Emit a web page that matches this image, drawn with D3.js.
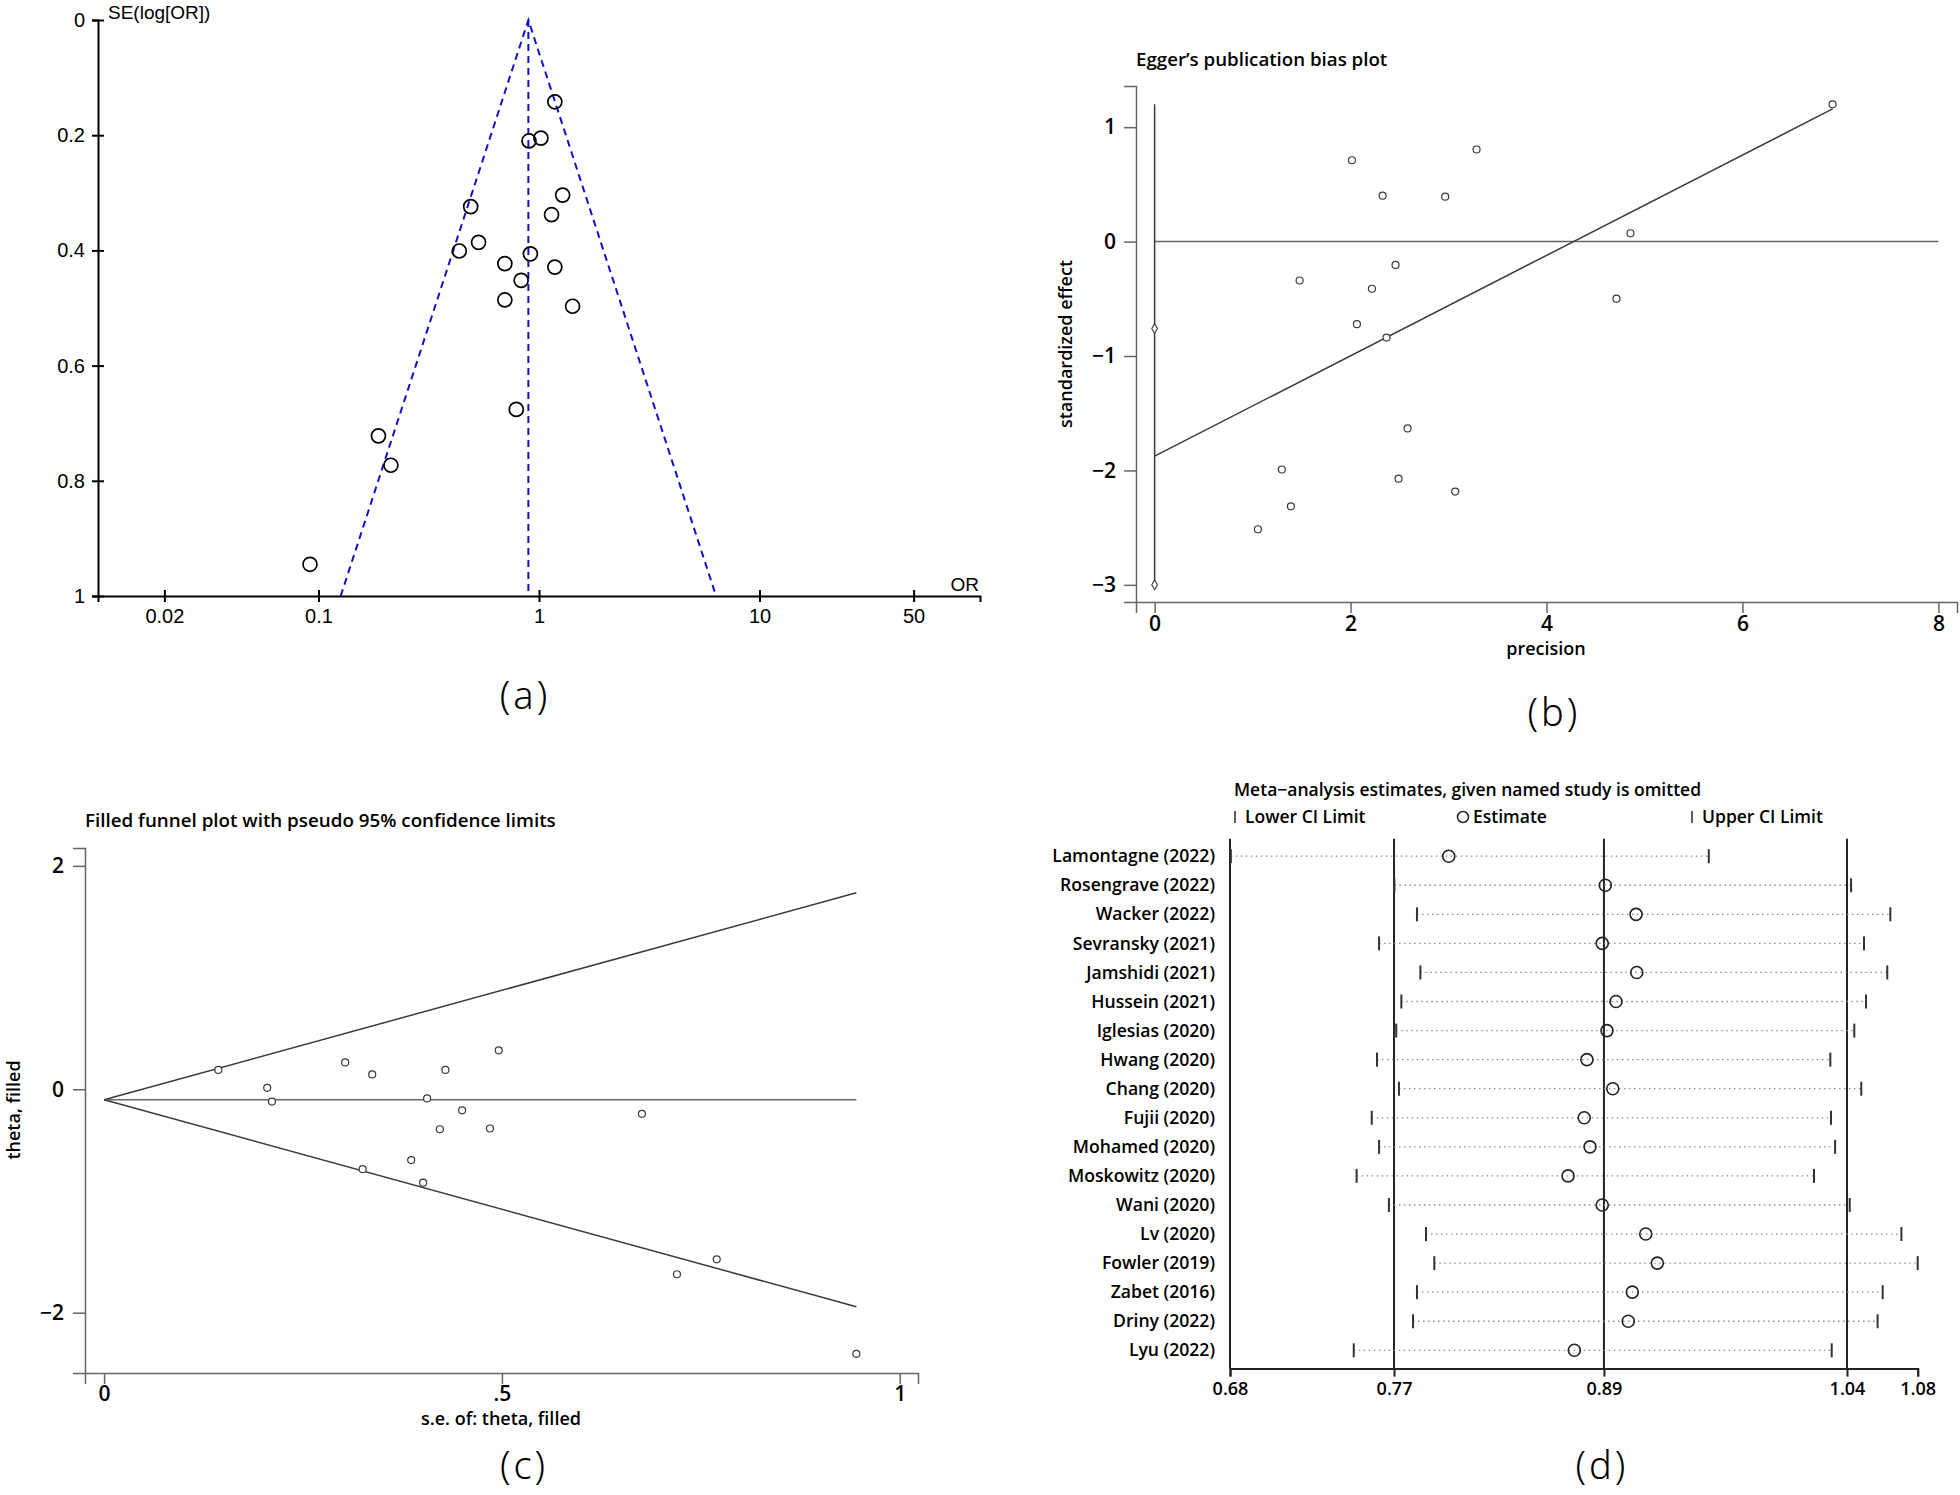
<!DOCTYPE html>
<html>
<head>
<meta charset="utf-8">
<script src="https://cdn.jsdelivr.net/npm/d3@7"></script>
<style>
  body { margin: 0; background: #fff; }
  svg text { fill: #000; }
</style>
</head>
<body>
<script>
// ---------- data ----------
// (a) funnel plot: odds ratio and SE(log OR) per study
var orA = [0.0915, 0.187, 0.213, 0.789, 0.490, 0.435, 0.532, 0.700, 0.700, 0.830, 0.914, 0.901, 1.02, 1.14, 1.18, 1.28, 1.18, 1.42];
var seA = [0.945, 0.722, 0.773, 0.676, 0.324, 0.401, 0.386, 0.423, 0.486, 0.452, 0.406, 0.210, 0.205, 0.338, 0.142, 0.304, 0.429, 0.497];
var pooledOrA = 0.895;
var xTicksA = [0.02, 0.1, 1, 10, 50];
var yTicksA = [0, 0.2, 0.4, 0.6, 0.8, 1];

// (b) Egger plot: precision vs standardized effect
var precB = [2.014, 3.286, 2.327, 2.966, 1.480, 2.459, 2.218, 2.065, 2.367, 2.582, 1.299, 2.490, 3.068, 1.391, 1.054, 6.92, 4.857, 4.714];
var effB = [0.711, 0.805, 0.401, 0.393, -0.340, -0.204, -0.412, -0.722, -0.839, -1.633, -1.992, -2.072, -2.185, -2.314, -2.514, 1.20, 0.073, -0.499];
var eggerIntercept = -1.875;
var eggerSlope = 0.4385;
var interceptLine = [-3.0, 1.2];
var interceptMarks = [-0.76, -3.0];
var xTicksB = [0, 2, 4, 6, 8];
var yTicksB = [-3, -2, -1, 0, 1];

// (c) filled funnel: s.e. vs theta
var seC = [0.1436, 0.205, 0.211, 0.303, 0.337, 0.325, 0.386, 0.401, 0.406, 0.429, 0.422, 0.450, 0.485, 0.496, 0.676, 0.720, 0.770, 0.9455];
var thetaC = [0.173, 0.013, -0.110, 0.240, 0.133, -0.715, -0.634, -0.836, -0.082, 0.173, -0.358, -0.188, -0.351, 0.349, -0.220, -1.656, -1.522, -2.368];
var pooledThetaC = -0.094;
var xTicksC = [0, 0.5, 1];
var xTickLabelsC = ["0", ".5", "1"];
var yTicksC = [-2, 0, 2];

// (d) leave-one-out estimates
var studies = ["Lamontagne (2022)", "Rosengrave (2022)", "Wacker (2022)", "Sevransky (2021)", "Jamshidi (2021)", "Hussein (2021)",
  "Iglesias (2020)", "Hwang (2020)", "Chang (2020)", "Fujii (2020)", "Mohamed (2020)", "Moskowitz (2020)",
  "Wani (2020)", "Lv (2020)", "Fowler (2019)", "Zabet (2016)", "Driny (2022)", "Lyu (2022)"];
var lowerD = [0.6755, 0.7717, 0.785, 0.7627, 0.787, 0.7758, 0.7728, 0.7615, 0.7744, 0.7584, 0.7627, 0.7495, 0.7685, 0.7903, 0.7952, 0.785, 0.7827, 0.7478];
var estD = [0.8037, 0.8958, 0.9139, 0.894, 0.9143, 0.9021, 0.8968, 0.885, 0.9002, 0.8834, 0.8868, 0.8739, 0.894, 0.9196, 0.9264, 0.9117, 0.9093, 0.8776];
var upperD = [0.9567, 1.0404, 1.0635, 1.048, 1.0617, 1.0492, 1.0423, 1.0282, 1.0464, 1.0286, 1.031, 1.0186, 1.0396, 1.07, 1.0796, 1.059, 1.056, 1.029];
var pooledD = [0.7715, 0.895, 1.038];
var xTicksD = [0.675, 0.7715, 0.895, 1.038, 1.0796];
var xTickLabelsD = ["0.68", "0.77", "0.89", "1.04", "1.08"];

// ---------- svg ----------
var w = 1960, h = 1495;
var svg = d3.select("body").append("svg")
  .attr("width", w)
  .attr("height", h);

var sansA = "'Liberation Sans', Arial, sans-serif";
var sansB = "'Open Sans', 'Noto Sans', sans-serif";

function styleAxis(g, color, width) {
  g.selectAll(".domain").attr("stroke", color).attr("stroke-width", width);
  g.selectAll(".tick line").attr("stroke", color).attr("stroke-width", width);
  g.selectAll(".tick text").attr("fill", "#000");
}

// ================= (a) =================
var xA = d3.scaleLog().domain([0.01, 100]).range([98, 980]);
var yA = d3.scaleLinear().domain([0, 1]).range([20, 596]);
var gA = svg.append("g").attr("font-family", sansA);

var yAxisA = gA.append("g")
  .attr("transform", "translate(98,0)")
  .call(d3.axisLeft(yA).tickValues(yTicksA).tickFormat(d3.format("")).tickSizeOuter(0).tickSize(6).tickPadding(7));
yAxisA.selectAll(".tick line").attr("x1", 6);
yAxisA.selectAll("text").attr("font-size", 20).attr("font-family", sansA);
styleAxis(yAxisA, "#000", 2);

var xAxisA = gA.append("g")
  .attr("transform", "translate(0,596)")
  .call(d3.axisBottom(xA).tickValues(xTicksA).tickFormat(function(d) { return d; }).tickSizeOuter(0).tickSize(6).tickPadding(7));
xAxisA.selectAll(".tick line").attr("y1", -6);
xAxisA.selectAll("text").attr("font-size", 20).attr("font-family", sansA);
styleAxis(xAxisA, "#000", 2);

gA.append("text").text("SE(log[OR])")
  .attr("x", 108).attr("y", 19).attr("font-size", 19);
gA.append("text").text("OR")
  .attr("x", 979).attr("y", 591).attr("text-anchor", "end").attr("font-size", 19);

// pseudo 95% limits
var funnelA = [
  [[pooledOrA * Math.exp(-1.96), 1], [pooledOrA, 0], [pooledOrA * Math.exp(1.96), 1]],
  [[pooledOrA, 0], [pooledOrA, 1]]
];
gA.selectAll("path.funnel")
  .data(funnelA)
  .enter()
  .append("path")
  .attr("class", "funnel")
  .attr("d", d3.line().x(function(d) { return xA(d[0]); }).y(function(d) { return yA(d[1]); }))
  .attr("fill", "none")
  .attr("stroke", "#1010c8")
  .attr("stroke-width", 2)
  .attr("stroke-dasharray", "7,5");

gA.selectAll("circle")
  .data(orA)
  .enter()
  .append("circle")
  .attr("cx", function(d) { return xA(d); })
  .attr("cy", function(d, i) { return yA(seA[i]); })
  .attr("r", 7)
  .attr("fill", "none")
  .attr("stroke", "#000")
  .attr("stroke-width", 1.7);

// ================= (b) =================
var xB = d3.scaleLinear().domain([-0.19, 8.19]).range([1136, 1957]);
var yB = d3.scaleLinear().domain([-3.15, 1.36]).range([602, 86]);
var gB = svg.append("g").attr("font-family", sansB);
var axisCol = "#666";

var yAxisB = gB.append("g")
  .attr("transform", "translate(1136,0)")
  .call(d3.axisLeft(yB).tickValues(yTicksB).tickFormat(d3.format("")).tickSizeOuter(0).tickSize(12).tickPadding(8));
yAxisB.selectAll("text").attr("font-size", 21).attr("font-weight", 600).attr("font-family", sansB);
styleAxis(yAxisB, axisCol, 1.5);

var xAxisB = gB.append("g")
  .attr("transform", "translate(0,602)")
  .call(d3.axisBottom(xB).tickValues(xTicksB).tickSizeOuter(0).tickSize(11).tickPadding(3));
xAxisB.selectAll("text").attr("font-size", 21).attr("font-weight", 600).attr("font-family", sansB);
styleAxis(xAxisB, axisCol, 1.5);

gB.append("text").text("Egger\u2019s publication bias plot")
  .attr("x", 1136).attr("y", 66).attr("font-size", 18.7).attr("font-weight", 600);
gB.append("text").text("precision")
  .attr("x", 1546).attr("y", 655).attr("text-anchor", "middle").attr("font-size", 18).attr("font-weight", 600);
gB.append("text").text("standardized effect")
  .attr("transform", "translate(1072,344) rotate(-90)")
  .attr("text-anchor", "middle").attr("font-size", 18).attr("font-weight", 600);

var lineCol = "#3a3a3a";
// zero line
gB.append("line")
  .attr("x1", xB(0)).attr("x2", xB(8)).attr("y1", yB(0)).attr("y2", yB(0))
  .attr("stroke", axisCol).attr("stroke-width", 1.5);
// intercept CI
gB.append("line")
  .attr("x1", xB(0)).attr("x2", xB(0)).attr("y1", yB(interceptLine[0])).attr("y2", yB(interceptLine[1]))
  .attr("stroke", lineCol).attr("stroke-width", 1.5);
gB.selectAll("path.mark")
  .data(interceptMarks)
  .enter()
  .append("path")
  .attr("class", "mark")
  .attr("d", d3.symbol().type(d3.symbolDiamond).size(28))
  .attr("transform", function(d) { return "translate(" + xB(0) + "," + yB(d) + ")"; })
  .attr("fill", "#fff").attr("stroke", lineCol).attr("stroke-width", 1.1);
// regression line
var maxPrec = d3.max(precB);
gB.append("line")
  .attr("x1", xB(0)).attr("y1", yB(eggerIntercept))
  .attr("x2", xB(maxPrec)).attr("y2", yB(eggerIntercept + eggerSlope * maxPrec))
  .attr("stroke", lineCol).attr("stroke-width", 1.5);

gB.selectAll("circle")
  .data(precB)
  .enter()
  .append("circle")
  .attr("cx", function(d) { return xB(d); })
  .attr("cy", function(d, i) { return yB(effB[i]); })
  .attr("r", 3.5)
  .attr("fill", "#fff")
  .attr("stroke", lineCol)
  .attr("stroke-width", 1.2);

// ================= (c) =================
var xC = d3.scaleLinear().domain([-0.024, 1.023]).range([85, 918]);
var yC = d3.scaleLinear().domain([-2.54, 2.16]).range([1373, 848]);
var gC = svg.append("g").attr("font-family", sansB);

var yAxisC = gC.append("g")
  .attr("transform", "translate(85,0)")
  .call(d3.axisLeft(yC).tickValues(yTicksC).tickFormat(d3.format("")).tickSizeOuter(0).tickSize(12).tickPadding(9));
yAxisC.selectAll("text").attr("font-size", 21).attr("font-weight", 600).attr("font-family", sansB);
styleAxis(yAxisC, axisCol, 1.5);

var xAxisC = gC.append("g")
  .attr("transform", "translate(0,1373)")
  .call(d3.axisBottom(xC).tickValues(xTicksC).tickFormat(function(d, i) { return xTickLabelsC[i]; }).tickSizeOuter(0).tickSize(11).tickPadding(2));
xAxisC.selectAll("text").attr("font-size", 21).attr("font-weight", 600).attr("font-family", sansB);
styleAxis(xAxisC, axisCol, 1.5);

gC.append("text").text("Filled funnel plot with pseudo 95% confidence limits")
  .attr("x", 85).attr("y", 827).attr("font-size", 18.8).attr("font-weight", 600);
gC.append("text").text("s.e. of: theta, filled")
  .attr("x", 501).attr("y", 1425).attr("text-anchor", "middle").attr("font-size", 18).attr("font-weight", 600);
gC.append("text").text("theta, filled")
  .attr("transform", "translate(20,1110) rotate(-90)")
  .attr("text-anchor", "middle").attr("font-size", 18).attr("font-weight", 600);

var maxSeC = d3.max(seC);
var funnelC = [
  [[0, pooledThetaC], [maxSeC, pooledThetaC + 1.96 * maxSeC]],
  [[0, pooledThetaC], [maxSeC, pooledThetaC]],
  [[0, pooledThetaC], [maxSeC, pooledThetaC - 1.96 * maxSeC]]
];
gC.selectAll("path.funnel")
  .data(funnelC)
  .enter()
  .append("path")
  .attr("class", "funnel")
  .attr("d", d3.line().x(function(d) { return xC(d[0]); }).y(function(d) { return yC(d[1]); }))
  .attr("fill", "none")
  .attr("stroke", function(d, i) { return i == 1 ? axisCol : lineCol; })
  .attr("stroke-width", 1.5);

gC.selectAll("circle")
  .data(seC)
  .enter()
  .append("circle")
  .attr("cx", function(d) { return xC(d); })
  .attr("cy", function(d, i) { return yC(thetaC[i]); })
  .attr("r", 3.5)
  .attr("fill", "#fff")
  .attr("stroke", lineCol)
  .attr("stroke-width", 1.2);

// ================= (d) =================
var xD = d3.scaleLinear().domain([xTicksD[0], xTicksD[4]]).range([1230, 1917.7]);
var yD = d3.scalePoint().domain(studies).range([856.2, 1350.3]);
var gD = svg.append("g").attr("font-family", sansB);
var topD = 838.8, bottomD = 1368.6;

var xAxisD = gD.append("g")
  .attr("transform", "translate(0," + bottomD + ")")
  .call(d3.axisBottom(xD).tickValues(xTicksD).tickFormat(function(d, i) { return xTickLabelsD[i]; }).tickSizeOuter(0).tickSize(8).tickPadding(6));
xAxisD.selectAll("text").attr("font-size", 18).attr("font-weight", 600).attr("font-family", sansB);
styleAxis(xAxisD, "#222", 2);

var yAxisD = gD.append("g")
  .attr("transform", "translate(1230,0)")
  .call(d3.axisLeft(yD).tickSize(0).tickPadding(15));
yAxisD.select(".domain").remove();
yAxisD.selectAll("text").attr("font-size", 17.6).attr("font-weight", 600).attr("font-family", sansB);

// frame + pooled reference lines
gD.selectAll("line.ref")
  .data([xTicksD[0]].concat(pooledD))
  .enter()
  .append("line")
  .attr("class", "ref")
  .attr("x1", function(d) { return xD(d); })
  .attr("x2", function(d) { return xD(d); })
  .attr("y1", topD).attr("y2", bottomD)
  .attr("stroke", "#222").attr("stroke-width", 2);

var rows = gD.selectAll("g.row")
  .data(studies)
  .enter()
  .append("g")
  .attr("class", "row")
  .attr("transform", function(d) { return "translate(0," + yD(d) + ")"; });

rows.append("line")
  .attr("x1", function(d, i) { return xD(lowerD[i]); })
  .attr("x2", function(d, i) { return xD(upperD[i]); })
  .attr("stroke", "#8c8c8c").attr("stroke-width", 1.3).attr("stroke-dasharray", "1.5,3.5");
rows.append("line")
  .attr("x1", function(d, i) { return xD(lowerD[i]); })
  .attr("x2", function(d, i) { return xD(lowerD[i]); })
  .attr("y1", -7).attr("y2", 7)
  .attr("stroke", "#333").attr("stroke-width", 2);
rows.append("line")
  .attr("x1", function(d, i) { return xD(upperD[i]); })
  .attr("x2", function(d, i) { return xD(upperD[i]); })
  .attr("y1", -7).attr("y2", 7)
  .attr("stroke", "#333").attr("stroke-width", 2);
rows.append("circle")
  .attr("cx", function(d, i) { return xD(estD[i]); })
  .attr("r", 6)
  .attr("fill", "none").attr("stroke", "#222").attr("stroke-width", 1.6);

gD.append("text").text("Meta\u2212analysis estimates, given named study is omitted")
  .attr("x", 1234).attr("y", 796).attr("font-size", 17.5).attr("font-weight", 600);

// legend
var legendD = [
  { label: "Lower CI Limit", x: 1235, type: "bar" },
  { label: "Estimate", x: 1463, type: "circle" },
  { label: "Upper CI Limit", x: 1692, type: "bar" }
];
var leg = gD.selectAll("g.leg")
  .data(legendD)
  .enter()
  .append("g")
  .attr("class", "leg")
  .attr("transform", function(d) { return "translate(" + d.x + ",817)"; });
leg.filter(function(d) { return d.type == "bar"; })
  .append("line").attr("y1", -6).attr("y2", 6).attr("stroke", "#333").attr("stroke-width", 1.6);
leg.filter(function(d) { return d.type == "circle"; })
  .append("circle").attr("r", 5.5).attr("fill", "none").attr("stroke", "#222").attr("stroke-width", 1.5);
leg.append("text")
  .text(function(d) { return d.label; })
  .attr("x", 10)
  .attr("dy", "0.35em")
  .attr("font-size", 17.5).attr("font-weight", 600);

// ---------- panel letters ----------
var letters = [
  { t: "(a)", x: 525, y: 696 },
  { t: "(b)", x: 1554, y: 713 },
  { t: "(c)", x: 524, y: 1466 },
  { t: "(d)", x: 1602, y: 1466 }
];
svg.selectAll("text.letter")
  .data(letters)
  .enter()
  .append("text")
  .attr("class", "letter")
  .text(function(d) { return d.t; })
  .attr("x", function(d) { return d.x; })
  .attr("y", function(d) { return d.y; })
  .attr("dy", "0.35em")
  .attr("text-anchor", "middle")
  .attr("font-family", "'Noto Sans', sans-serif")
  .attr("font-weight", 300)
  .attr("font-size", 38)
  .attr("letter-spacing", 3);
</script>
</body>
</html>
